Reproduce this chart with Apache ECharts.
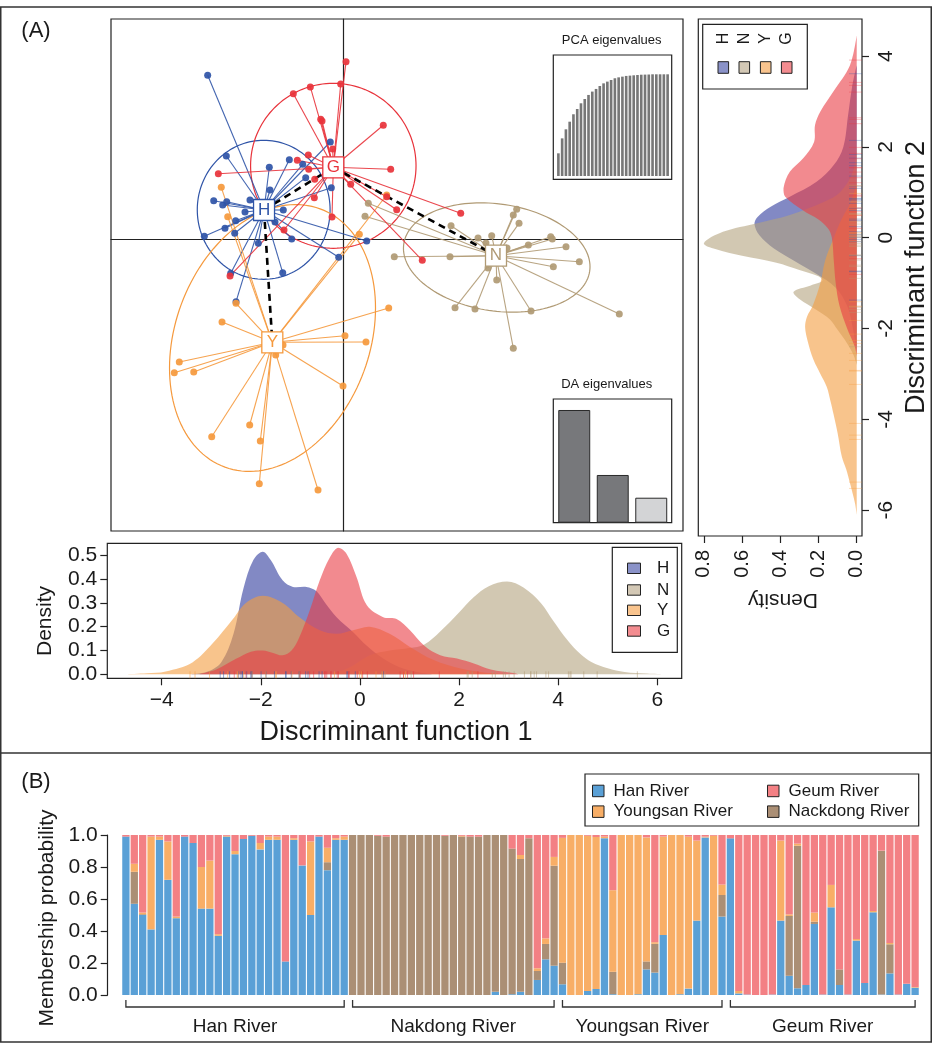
<!DOCTYPE html>
<html><head><meta charset="utf-8">
<script src="https://cdn.jsdelivr.net/npm/echarts@6/dist/echarts.min.js"></script>
<style>html,body{margin:0;padding:0;background:#fff}#c{width:932px;height:1043px}</style>
</head><body><div id="c"></div>
<script>
const FONT = 'Liberation Sans, Arial, Helvetica, sans-serif';

// ---------- Panel A: individual scores [LD1, LD2] ----------
const ptsH = [[-2.751,3.612],[-2.373,1.835],[-1.501,1.586],[-1.095,1.753],[-0.824,1.652],[-0.264,2.143],[-0.763,1.357],[-0.243,1.137],[-2.629,0.850],[-2.446,0.756],[-2.365,0.828],[-2.400,0.242],[-2.819,0.066],[-2.183,0.410],[-2.203,0.132],[-1.217,0.645],[-1.724,-0.088],[-1.047,0.007],[-0.093,-0.396],[0.475,-0.037],[-1.229,-0.736],[-2.284,-0.749],[-2.176,-1.374],[-1.893,0.866],[-1.385,0.381],[-1.994,0.601],[-1.487,1.086]];
const ptsN = [[0.507,0.793],[0.440,0.507],[2.185,0.300],[3.448,0.535],[3.517,0.661],[3.564,0.352],[3.010,0.079],[3.753,-0.126],[4.207,0.057],[4.239,0.007],[4.517,-0.163],[4.787,-0.493],[4.260,-0.604],[1.034,-0.383],[2.164,-0.383],[3.112,-0.896],[2.266,-1.507],[2.671,-1.535],[3.807,-1.579],[5.598,-1.645],[3.448,-2.401],[2.894,-0.081],[3.320,-0.192],[2.935,-0.632],[2.732,0.029]];
const ptsY = [[-2.475,1.145],[-2.345,0.498],[0.880,0.976],[0.325,0.110],[-2.176,-1.410],[-2.460,-1.822],[-3.327,-2.703],[-3.428,-2.938],[-3.034,-2.923],[-2.669,-4.348],[-1.899,-4.090],[-1.684,-4.443],[-1.704,-5.383],[-0.513,-5.522],[-0.006,-3.231],[0.460,-2.262],[0.034,-2.123],[0.921,-1.513],[-1.371,-2.548],[-1.223,-2.328]];
const ptsG = [[0.055,3.912],[-0.053,3.421],[-0.669,3.355],[-1.014,3.207],[-0.458,2.643],[-0.432,2.606],[0.811,2.511],[0.961,1.542],[-0.215,1.989],[-0.710,1.857],[-0.933,1.740],[-0.702,1.542],[-2.535,1.445],[-0.580,1.322],[-0.588,0.916],[0.150,1.211],[1.083,0.652],[0.880,0.938],[-0.229,0.491],[-1.203,0.205],[-2.298,-0.808],[2.381,0.573],[1.602,-0.463]];

const groupKeys = ['H','N','Y','G'];
const centroidLD1 = [-1.608, 3.097, -1.440, -0.203];
const centroidLD2 = [0.645, -0.361, -2.269, 1.586];
// inertia ellipses: centre and two conjugate semi-axes (LD units)
const ellipseCentre = [[-1.615,0.65],[3.112,-0.401],[-1.436,-2.174],[-0.203,1.619]];
const ellipseAxisU  = [[1.347,0],[1.892,-0.203],[2.089,0.661],[1.678,0]];
const ellipseAxisV  = [[0,1.531],[0,1.187],[0,2.863],[0,1.817]];
const mstEdges = [['H','G'],['H','Y'],['G','N']];

const pcaEigen = [22.3,37,45.9,53.4,60.7,65.9,71.5,75.7,79.7,83,85.6,88.5,91.1,92.8,94.4,96.1,97,97.7,98.4,98.7,99,99.3,99.6,99.7,99.8,100,100,100,100,100];
const daEigen = [4.51, 1.91, 1.0];

// density curves [LD1, density]
const densLD1_H = [[-3.5,0],[-3.1,0.01],[-2.8,0.05],[-2.55,0.17],[-2.35,0.36],[-2.15,0.48],[-1.96,0.515],[-1.8,0.48],[-1.56,0.395],[-1.35,0.367],[-1.08,0.367],[-0.88,0.35],[-0.7,0.3],[-0.47,0.24],[-0.14,0.178],[0.14,0.12],[0.47,0.066],[0.8,0.03],[1.15,0.01],[1.5,0]];
const densLD1_N = [[-0.6,0],[-0.2,0.03],[0.2,0.08],[0.6,0.1],[1.0,0.11],[1.3,0.125],[1.62,0.18],[2.0,0.26],[2.3,0.325],[2.6,0.37],[2.97,0.39],[3.3,0.365],[3.65,0.3],[3.9,0.225],[4.19,0.143],[4.45,0.085],[4.67,0.052],[5.0,0.025],[5.34,0.01],[5.8,0.003],[6.12,0]];
const densLD1_Y = [[-4.7,0],[-4.3,0.004],[-3.92,0.012],[-3.38,0.05],[-2.97,0.13],[-2.57,0.23],[-2.3,0.3],[-1.96,0.33],[-1.56,0.3],[-1.22,0.24],[-0.81,0.185],[-0.47,0.17],[-0.14,0.185],[0.2,0.2],[0.6,0.17],[1.01,0.115],[1.49,0.06],[2.03,0.024],[2.5,0.008],[3.1,0]];
const densLD1_G = [[-3.25,0],[-2.9,0.02],[-2.5,0.065],[-2.2,0.095],[-1.96,0.1],[-1.75,0.09],[-1.56,0.08],[-1.38,0.1],[-1.22,0.157],[-1.01,0.27],[-0.81,0.395],[-0.61,0.49],[-0.44,0.532],[-0.27,0.507],[-0.07,0.41],[0.14,0.29],[0.47,0.24],[0.74,0.232],[1.01,0.185],[1.3,0.12],[1.62,0.08],[1.96,0.066],[2.3,0.045],[2.64,0.02],[3.1,0.005],[3.2,0]];
// density curves [LD2, density]
const densLD2_H = [[3.8,0],[3.3,0.025],[2.7,0.045],[2.0,0.07],[1.6,0.12],[1.23,0.21],[0.9,0.35],[0.68,0.45],[0.45,0.52],[0.3,0.535],[0.06,0.51],[-0.23,0.435],[-0.5,0.33],[-0.8,0.21],[-1.1,0.11],[-1.5,0.05],[-2.0,0.02],[-2.5,0]];
const densLD2_N = [[2.0,0],[1.45,0.02],[1.0,0.087],[0.79,0.17],[0.5,0.35],[0.32,0.52],[0.13,0.7],[-0.125,0.8],[-0.25,0.74],[-0.4,0.6],[-0.55,0.42],[-0.71,0.3],[-0.85,0.2],[-0.95,0.18],[-1.05,0.24],[-1.19,0.33],[-1.35,0.3],[-1.59,0.21],[-1.8,0.14],[-2.03,0.1],[-2.33,0.05],[-2.6,0.015],[-2.8,0]];
const densLD2_Y = [[1.2,0],[0.8,0.03],[0.4,0.08],[0,0.12],[-0.5,0.165],[-1.0,0.19],[-1.5,0.23],[-1.74,0.26],[-1.96,0.27],[-2.3,0.255],[-2.69,0.226],[-3.0,0.19],[-3.28,0.157],[-3.6,0.137],[-3.87,0.122],[-4.3,0.1],[-4.82,0.078],[-5.1,0.055],[-5.41,0.035],[-5.85,0.009],[-6.1,0]];
const densLD2_G = [[4.45,0],[3.8,0.035],[3.22,0.122],[2.78,0.19],[2.48,0.218],[2.11,0.223],[1.75,0.28],[1.45,0.35],[1.09,0.383],[0.9,0.374],[0.6,0.28],[0.4,0.2],[0.2,0.15],[0,0.13],[-0.5,0.12],[-1.0,0.11],[-1.5,0.09],[-2.0,0.05],[-2.4,0.01],[-2.6,0]];
const ld1Ticks = [-4,-2,0,2,4,6];
const ld2Ticks = [-6,-4,-2,0,2,4];
const dens1Ticks = [0,0.1,0.2,0.3,0.4,0.5];
const dens2Ticks = [0,0.2,0.4,0.6,0.8];

// ---------- Panel B: membership probabilities ----------
const riverNames = ['Han River','Nakdong River','Youngsan River','Geum River'];
const riverSizes = [27,25,20,23];
const clusterNames = ['Han River','Nackdong River','Youngsan River','Geum River'];
const probHan = [
 .99,.57,.50,.41,.97,.72,.48,.99,.95,.54,.54,.37,.99,.88,.975,.995,.91,.97,.97,.21,.97,.81,.50,.99,.78,.97,.97,
 0,0,0,0,0,0,0,0,0,0,0,0,0,0,0,0,0,.02,0,.005,.02,0,.094,.223,.183,
 .067,0,0,.025,.0375,.98,.005,0,0,.005,.16,.14,.375,0,.005,.04,.465,.985,0,.49,
 .979,.01,.003,0,0,.003,.465,.12,.042,.0625,.444,.003,.548,.0625,.003,.34,.075,.517,.003,.135,.003,.07,.046];
const probNackdong = [
 0,.20,.005,0,0,0,0,0,0,0,0,0,0,0,0,0,0,0,0,0,0,0,0,0,.05,0,0,
 1,1,1,.995,.99,1,1,1,1,1,1,.995,1,.99,.99,.99,1,.98,1,.91,.83,.98,.056,.096,.625,
 .135,0,0,0,0,0,.14,0,0,0,.05,.18,0,0,0,0,0,0,0,.135,
 0,0,0,0,0,0,0,.374,.891,0,.014,0,0,.0975,0,0,0,0,.899,.182,0,0,0];
const probYoungsan = [
 0,.05,.01,.58,.02,.24,.01,0,0,.26,.30,.01,.005,.02,0,0,.04,.02,.02,0,.01,0,.46,0,.09,.01,.02,
 0,0,0,0,0,0,0,0,0,0,0,0,0,.005,0,0,0,0,0,0,.025,0,.017,.035,.055,
 .78,1,1,.97,.95,.01,.51,1,1,.995,.775,.01,.615,1,.995,.95,.50,.005,.995,.065,
 0,.015,0,0,0,0,.50,.01,.013,0,.057,0,.14,0,0,.01,0,.008,0,.008,0,0,.004];
const probGeum = [
 .01,.18,.485,.01,.01,.04,.51,.01,.05,.20,.16,.62,.005,.10,.025,.005,.05,.01,.01,.79,.02,.19,.04,.01,.08,.02,.01,
 0,0,0,.005,.01,0,0,0,0,0,0,.005,0,.005,.01,.01,0,0,0,.085,.125,.02,.833,.646,.137,
 .018,0,0,.005,.0125,.01,.345,0,0,0,.015,.67,.01,0,0,.01,.035,.01,.005,.31,
 .021,.975,.997,1,1,.997,.035,.496,.054,.9375,.485,.997,.312,.84,.997,.65,.925,.475,.098,.675,.997,.93,.95];

// ---------- styles ----------
const ptCol = ['#2F54A7','#B09A74','#F5993D','#E8333B'];           // H N Y G
const densFill = ['rgba(47,58,157,0.6)','rgba(180,163,127,0.6)','rgba(243,157,63,0.6)','rgba(233,60,68,0.6)'];
const legendFill = ['#8A92C8','#D3C8B5','#F9C48E','#F38C90'];
const barCol = ['#5AA0D6','#AB8F75','#F8AE66','#F38084'];          // Han, Nackdong, Youngsan, Geum
const INK = '#1a1a1a';

const ptsByGroup = [ptsH, ptsN, ptsY, ptsG];
const densLD1 = [densLD1_H, densLD1_N, densLD1_Y, densLD1_G];
const densLD2 = [densLD2_H, densLD2_N, densLD2_Y, densLD2_G];

function bbox(pts){
  let x0=Infinity,y0=Infinity,x1=-Infinity,y1=-Infinity;
  pts.forEach(p=>{x0=Math.min(x0,p[0]);y0=Math.min(y0,p[1]);x1=Math.max(x1,p[0]);y1=Math.max(y1,p[1]);});
  return [[x0,y0],[x1,y1]];
}

const series = [];
// ellipses
series.push({type:'custom', xAxisIndex:0, yAxisIndex:0, silent:true,
  data: ellipseCentre.map((c,i)=>[c[0],c[1],ellipseAxisU[i][0],ellipseAxisU[i][1],ellipseAxisV[i][0],ellipseAxisV[i][1]]),
  renderItem:(params, api)=>{
    const v=[0,1,2,3,4,5].map(k=>api.value(k)); const pts=[];
    for(let k=0;k<=144;k++){const t=k/144*2*Math.PI;
      pts.push(api.coord([v[0]+v[2]*Math.cos(t)+v[4]*Math.sin(t), v[1]+v[3]*Math.cos(t)+v[5]*Math.sin(t)]));}
    return {type:'polyline', shape:{points:pts}, style:{stroke:ptCol[params.dataIndex], fill:'none', lineWidth:1.2}};
  }});
// spokes
ptsByGroup.forEach((pts,gi)=>{
  series.push({type:'custom', xAxisIndex:0, yAxisIndex:0, silent:true,
    data: pts.map(p=>[p[0],p[1],centroidLD1[gi],centroidLD2[gi]]),
    renderItem:(params, api)=>{
      const a=api.coord([api.value(0),api.value(1)]), b=api.coord([api.value(2),api.value(3)]);
      return {type:'line', shape:{x1:a[0],y1:a[1],x2:b[0],y2:b[1]}, style:{stroke:ptCol[gi], lineWidth:1.1, opacity:0.9}};
    }});
});
// points
ptsByGroup.forEach((pts,gi)=>{
  series.push({type:'scatter', xAxisIndex:0, yAxisIndex:0, data:pts, symbolSize:7, silent:true,
    itemStyle:{color:ptCol[gi], opacity:0.92}});
});
// minimum spanning tree between centroids
series.push({type:'custom', xAxisIndex:0, yAxisIndex:0, silent:true,
  data: mstEdges.map(e=>{const a=groupKeys.indexOf(e[0]), b=groupKeys.indexOf(e[1]);
    return [centroidLD1[a],centroidLD2[a],centroidLD1[b],centroidLD2[b]];}),
  renderItem:(params, api)=>{
    const a=api.coord([api.value(0),api.value(1)]), b=api.coord([api.value(2),api.value(3)]);
    return {type:'line', shape:{x1:a[0],y1:a[1],x2:b[0],y2:b[1]}, style:{stroke:'#000', lineWidth:2.6, lineDash:[7,5]}};
  }});
// centroid labels
series.push({type:'scatter', xAxisIndex:0, yAxisIndex:0, silent:true, symbol:'rect', symbolSize:21,
  data: groupKeys.map((g,i)=>({value:[centroidLD1[i],centroidLD2[i]], name:g,
    itemStyle:{borderColor:ptCol[i]}, label:{color:ptCol[i]}})),
  itemStyle:{color:'#fff', borderWidth:1.3, opacity:1},
  label:{show:true, position:'inside', formatter:p=>p.name, fontSize:17, fontFamily:FONT}});
// inset bars
series.push({type:'bar', xAxisIndex:1, yAxisIndex:1, data:pcaEigen, barCategoryGap:'30%', silent:true,
  itemStyle:{color:'#777777'}});
series.push({type:'bar', xAxisIndex:2, yAxisIndex:2, barCategoryGap:'17%', silent:true,
  data: daEigen.map((v,i)=>({value:v, itemStyle:{color: i<2 ? '#77787B' : '#D3D4D6'}})),
  itemStyle:{borderColor:'#2a2a2a', borderWidth:1}});
// densities
densLD1.forEach((curve,gi)=>{
  series.push({type:'custom', xAxisIndex:3, yAxisIndex:3, data:[[0,0]], silent:true,
    renderItem:(params, api)=>{const pts=curve.map(p=>api.coord([p[0],p[1]]));
      return {type:'polygon', shape:{points:pts, smooth:0.35, smoothConstraint:bbox(pts)},
      style:{fill:densFill[gi], stroke:'none'}};}});
});
densLD2.forEach((curve,gi)=>{
  series.push({type:'custom', xAxisIndex:4, yAxisIndex:4, data:[[0,0]], silent:true,
    renderItem:(params, api)=>{const pts=curve.map(p=>api.coord([p[1],p[0]]));
      return {type:'polygon', shape:{points:pts, smooth:0.35, smoothConstraint:bbox(pts)},
      style:{fill:densFill[gi], stroke:'none'}};}});
});
// rugs
const rug1 = [], rug2 = [];
ptsByGroup.forEach((pts,gi)=>pts.forEach(p=>{rug1.push([p[0],0,gi]); rug2.push([0,p[1],gi]);}));
series.push({type:'custom', xAxisIndex:3, yAxisIndex:3, data:rug1, silent:true,
  renderItem:(params, api)=>{const x=api.coord([api.value(0),0])[0]; const cs=params.coordSys; const yb=cs.y+cs.height;
    return {type:'line', shape:{x1:x,y1:yb,x2:x,y2:yb-7}, style:{stroke:ptCol[api.value(2)], lineWidth:1, opacity:0.5}};}});
series.push({type:'custom', xAxisIndex:4, yAxisIndex:4, data:rug2, silent:true,
  renderItem:(params, api)=>{const y=api.coord([0,api.value(1)])[1]; const cs=params.coordSys; const xr=cs.x+cs.width;
    return {type:'line', shape:{x1:xr,y1:y,x2:xr-13,y2:y}, style:{stroke:ptCol[api.value(2)], lineWidth:0.8, opacity:0.4}};}});
// Panel B bars
[probHan, probNackdong, probYoungsan, probGeum].forEach((arr,ci)=>{
  series.push({type:'bar', name:clusterNames[ci], xAxisIndex:5, yAxisIndex:5, stack:'m', data:arr,
    barCategoryGap:'13%', silent:true, itemStyle:{color:barCol[ci]}});
});
// brackets & river labels
const bracketData = []; let start = 0;
riverSizes.forEach(n=>{bracketData.push([start,0,start+n-1]); start+=n;});
series.push({type:'custom', xAxisIndex:5, yAxisIndex:5, data:bracketData, silent:true,
  renderItem:(params, api)=>{
    const x1=api.coord([api.value(0),0])[0], x2=api.coord([api.value(2),0])[0];
    const cs=params.coordSys; const y0=cs.y+cs.height;
    return {type:'group', children:[
      {type:'polyline', shape:{points:[[x1,y0+5],[x1,y0+12],[x2,y0+12],[x2,y0+5]]}, style:{stroke:'#333', lineWidth:1.3, fill:'none'}},
      {type:'text', x:(x1+x2)/2, y:y0+32, style:{text:riverNames[params.dataIndex], fontSize:19, fontFamily:FONT, fill:INK, align:'center', verticalAlign:'middle'}}
    ]};
  }});

const indivIds = probHan.map((_,i)=>String(i+1));

// ---------- graphics ----------
function txt(x,y,text,size,extra){return Object.assign({type:'text', x, y, style:{text, fontSize:size, fontFamily:FONT, fill:INK, align:'center', verticalAlign:'middle'}}, extra||{});}
function box(x,y,w,h){return {type:'rect', shape:{x,y,width:w,height:h}, style:{fill:'none', stroke:'#222', lineWidth:1.2}};}
const graphic = [
  {type:'rect', shape:{x:0.75,y:7,width:930.5,height:1035}, style:{fill:'none', stroke:'#333', lineWidth:1.5}},
  {type:'line', shape:{x1:0,y1:753,x2:931,y2:753}, style:{stroke:'#333', lineWidth:1.5}},
  txt(36,31,'(A)',22), txt(36,782,'(B)',22),
  box(553.3,55,118.4,124.3), txt(611.7,40,'PCA eigenvalues',13),
  box(553.3,399,118.4,123.7), txt(606.7,384,'DA eigenvalues',13),
  txt(45,621,'Density',21,{rotation:Math.PI/2}),
  txt(396,733,'Discriminant function 1',27),
  txt(917,277.5,'Discriminant function 2',27,{rotation:Math.PI/2}),
  txt(783,600,'Density',21,{rotation:Math.PI}),
  txt(47.5,918,'Membership probability',21,{rotation:Math.PI/2}),
  box(702.7,24.3,104.6,64.7),
  box(612.3,547.3,65,105),
  box(585,774,333.7,52)
];
const rLegX = [723.3,744.3,765.7,786.7];
groupKeys.forEach((g,i)=>{
  graphic.push(txt(rLegX[i],38.5,g,16,{rotation:Math.PI/2}));
  graphic.push({type:'rect', shape:{x:rLegX[i]-5.3,y:61.7,width:10.6,height:11.6}, style:{fill:legendFill[i], stroke:'#222', lineWidth:1}});
});
const bLegY = [568.3,590,610.3,631];
groupKeys.forEach((g,i)=>{
  graphic.push({type:'rect', shape:{x:627.5,y:bLegY[i]-5.2,width:13,height:10.4}, style:{fill:legendFill[i], stroke:'#222', lineWidth:1}});
  graphic.push({type:'text', x:657, y:bLegY[i], style:{text:g, fontSize:17, fontFamily:FONT, fill:INK, align:'left', verticalAlign:'middle'}});
});
// panel B legend: order Han, Youngsan | Geum, Nackdong
const bLeg = [[0,592.5,791],[2,592.5,811.7],[3,767.5,791],[1,767.5,811.7]];
bLeg.forEach(([ci,x,y])=>{
  graphic.push({type:'rect', shape:{x:x,y:y-5.8,width:11.5,height:11.5}, style:{fill:barCol[ci], stroke:'#222', lineWidth:1}});
  graphic.push({type:'text', x:x+21, y:y, style:{text:clusterNames[ci], fontSize:17, fontFamily:FONT, fill:INK, align:'left', verticalAlign:'middle'}});
});

const hiddenCat = n => ({type:'category', data:Array.from({length:n},(_,i)=>i+1), show:false});
const axisLineStyle = {color:'#222', width:1.2};
const noLine = {show:false, onZero:false};
const option = {
  animation:false,
  backgroundColor:'#fff',
  textStyle:{fontFamily:FONT},
  graphic,
  grid:[
    {left:111, top:19, width:572, height:512, show:true, borderColor:'#222', borderWidth:1.2},
    {left:556.5, top:74.3, width:113, height:101.7},
    {left:555, top:399, width:115.5, height:123.7},
    {left:107.3, top:543.3, width:574.4, height:135, show:true, borderColor:'#222', borderWidth:1.2},
    {left:698.3, top:19, width:163.7, height:517, show:true, borderColor:'#222', borderWidth:1.2},
    {left:121.7, top:835, width:797.6, height:160}
  ],
  xAxis:[
    {type:'value', gridIndex:0, min:-4.712, max:6.89, axisLine:{show:true, onZero:true, lineStyle:axisLineStyle}, axisTick:{show:false}, axisLabel:{show:false}, splitLine:{show:false}},
    Object.assign({gridIndex:1}, hiddenCat(pcaEigen.length)),
    Object.assign({gridIndex:2}, hiddenCat(daEigen.length)),
    {type:'value', gridIndex:3, min:-5.097, max:6.493, axisLine:noLine, splitLine:{show:false},
      axisTick:{show:true, customValues:ld1Ticks, length:7, lineStyle:axisLineStyle},
      axisLabel:{customValues:ld1Ticks, formatter:v=> v<0 ? '\u2212'+Math.abs(v) : String(v), fontSize:21, color:INK, margin:11}},
    {type:'value', gridIndex:4, min:-0.0277, max:0.8287, inverse:true, position:'bottom', axisLine:noLine, splitLine:{show:false},
      axisTick:{show:true, customValues:dens2Ticks, length:7, lineStyle:axisLineStyle},
      axisLabel:{customValues:dens2Ticks, rotate:90, formatter:v=>v.toFixed(1), fontSize:20, color:INK, margin:14}},
    {type:'category', gridIndex:5, data:indivIds, show:false}
  ],
  yAxis:[
    {type:'value', gridIndex:0, min:-6.425, max:4.852, axisLine:{show:true, onZero:true, lineStyle:axisLineStyle}, axisTick:{show:false}, axisLabel:{show:false}, splitLine:{show:false}},
    {type:'value', gridIndex:1, min:0, max:100, show:false},
    {type:'value', gridIndex:2, min:0, max:4.95, show:false},
    {type:'value', gridIndex:3, min:-0.0168, max:0.5504, axisLine:noLine, splitLine:{show:false},
      axisTick:{show:true, customValues:dens1Ticks, length:7, lineStyle:axisLineStyle},
      axisLabel:{customValues:dens1Ticks, formatter:v=>v.toFixed(1), fontSize:21, color:INK, margin:10}},
    {type:'value', gridIndex:4, min:-6.57, max:4.817, position:'right', axisLine:noLine, splitLine:{show:false},
      axisTick:{show:true, customValues:ld2Ticks, length:7, lineStyle:axisLineStyle},
      axisLabel:{customValues:ld2Ticks, rotate:90, formatter:v=>String(v), fontSize:21, color:INK, margin:14}},
    {type:'value', gridIndex:5, min:0, max:1, interval:0.2, offset:14, splitLine:{show:false},
      axisLine:{show:true, lineStyle:axisLineStyle}, axisTick:{show:true, length:7, lineStyle:axisLineStyle},
      axisLabel:{formatter:v=>v.toFixed(1), fontSize:21, color:INK, margin:10}}
  ],
  series
};
const chart = echarts.init(document.getElementById('c'), null, {renderer:'canvas'});
chart.setOption(option);
</script>
</body></html>
